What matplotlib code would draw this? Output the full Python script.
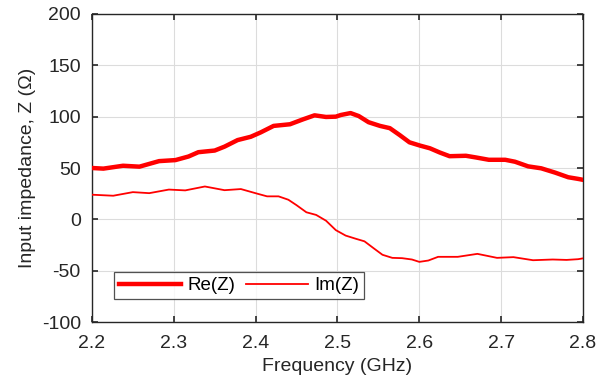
import numpy as np
import matplotlib
matplotlib.use("Agg")
import matplotlib.pyplot as plt

plt.rcParams["font.family"] = ["Liberation Sans", "DejaVu Sans"]
plt.rcParams["axes.unicode_minus"] = False

# Re(Z)
re_freq = [2.200, 2.214, 2.238, 2.258, 2.282, 2.302, 2.318, 2.330, 2.350, 2.362,
           2.378, 2.394, 2.406, 2.422, 2.442, 2.458, 2.472, 2.486, 2.498, 2.504,
           2.516, 2.526, 2.538, 2.552, 2.564, 2.576, 2.588, 2.601, 2.613, 2.625,
           2.637, 2.657, 2.669, 2.685, 2.705, 2.717, 2.733, 2.749, 2.766, 2.782,
           2.794, 2.800]
re_z = [50.0, 49.4, 52.2, 51.3, 56.7, 57.7, 61.2, 65.4, 67.0, 70.8,
        77.2, 80.4, 84.6, 91.0, 92.6, 97.4, 101.3, 99.7, 100.0, 101.6,
        103.5, 100.6, 94.6, 91.0, 88.8, 82.1, 75.0, 71.8, 69.2, 65.1,
        61.5, 61.9, 60.3, 58.0, 58.0, 56.1, 51.6, 49.7, 45.5, 41.0,
        39.4, 38.5]

# Im(Z)
im_freq = [2.200, 2.226, 2.250, 2.270, 2.294, 2.314, 2.338, 2.362, 2.382, 2.402,
           2.414, 2.428, 2.440, 2.450, 2.462, 2.474, 2.486, 2.498, 2.510, 2.522,
           2.533, 2.545, 2.555, 2.567, 2.579, 2.591, 2.600, 2.611, 2.623, 2.647,
           2.671, 2.695, 2.715, 2.739, 2.763, 2.780, 2.794, 2.800]
im_z = [24.0, 23.0, 26.5, 25.5, 29.0, 28.2, 32.0, 28.4, 29.5, 25.0,
        22.4, 22.4, 19.1, 13.8, 6.9, 4.3, -1.3, -10.5, -15.8, -18.8,
        -21.4, -28.6, -34.5, -37.5, -37.8, -39.1, -41.4, -40.1, -36.5, -36.5,
        -33.6, -37.5, -36.8, -39.8, -39.1, -39.5, -38.8, -38.0]

x_ticks = [2.2, 2.3, 2.4, 2.5, 2.6, 2.7, 2.8]
y_ticks = [-100, -50, 0, 50, 100, 150, 200]

TXT = "#262626"
FS = 14

fig = plt.figure(figsize=(6.13, 3.88), dpi=100)
ax = fig.add_axes([0.150, 0.170, 0.801, 0.794])

ax.plot(re_freq, re_z, color="red", lw=3.2, label="Re(Z)", zorder=3)
ax.plot(im_freq, im_z, color="red", lw=1.3, label="Im(Z)", zorder=3)

ax.set_xlim(2.2, 2.8)
ax.set_ylim(-100, 200)
ax.set_xticks(x_ticks)
ax.set_xticklabels([f"{t:.1f}" for t in x_ticks])
ax.set_yticks(y_ticks)
ax.grid(True, color="#dcdcdc", lw=0.8, zorder=0)
ax.tick_params(direction="in", top=True, right=True, length=4, width=1.2,
               labelsize=FS, colors=TXT)
ax.tick_params(axis="x", pad=9)
ax.tick_params(axis="y", pad=8)
for sp in ax.spines.values():
    sp.set_color(TXT)
    sp.set_linewidth(1.0)

ax.set_xlabel("Frequency (GHz)", fontsize=FS, color=TXT, labelpad=5)
ax.set_ylabel("Input impedance, Z (Ω)", fontsize=FS, color=TXT, labelpad=4)

leg = ax.legend(loc="lower left", bbox_to_anchor=(0.045, 0.075), ncol=2,
                fontsize=13.5, frameon=True, fancybox=False, edgecolor=TXT,
                handlelength=3.3, columnspacing=0.55, handletextpad=0.37,
                borderpad=0.25, borderaxespad=0)
leg.get_frame().set_linewidth(0.9)

fig.savefig("out.png", dpi=100)
